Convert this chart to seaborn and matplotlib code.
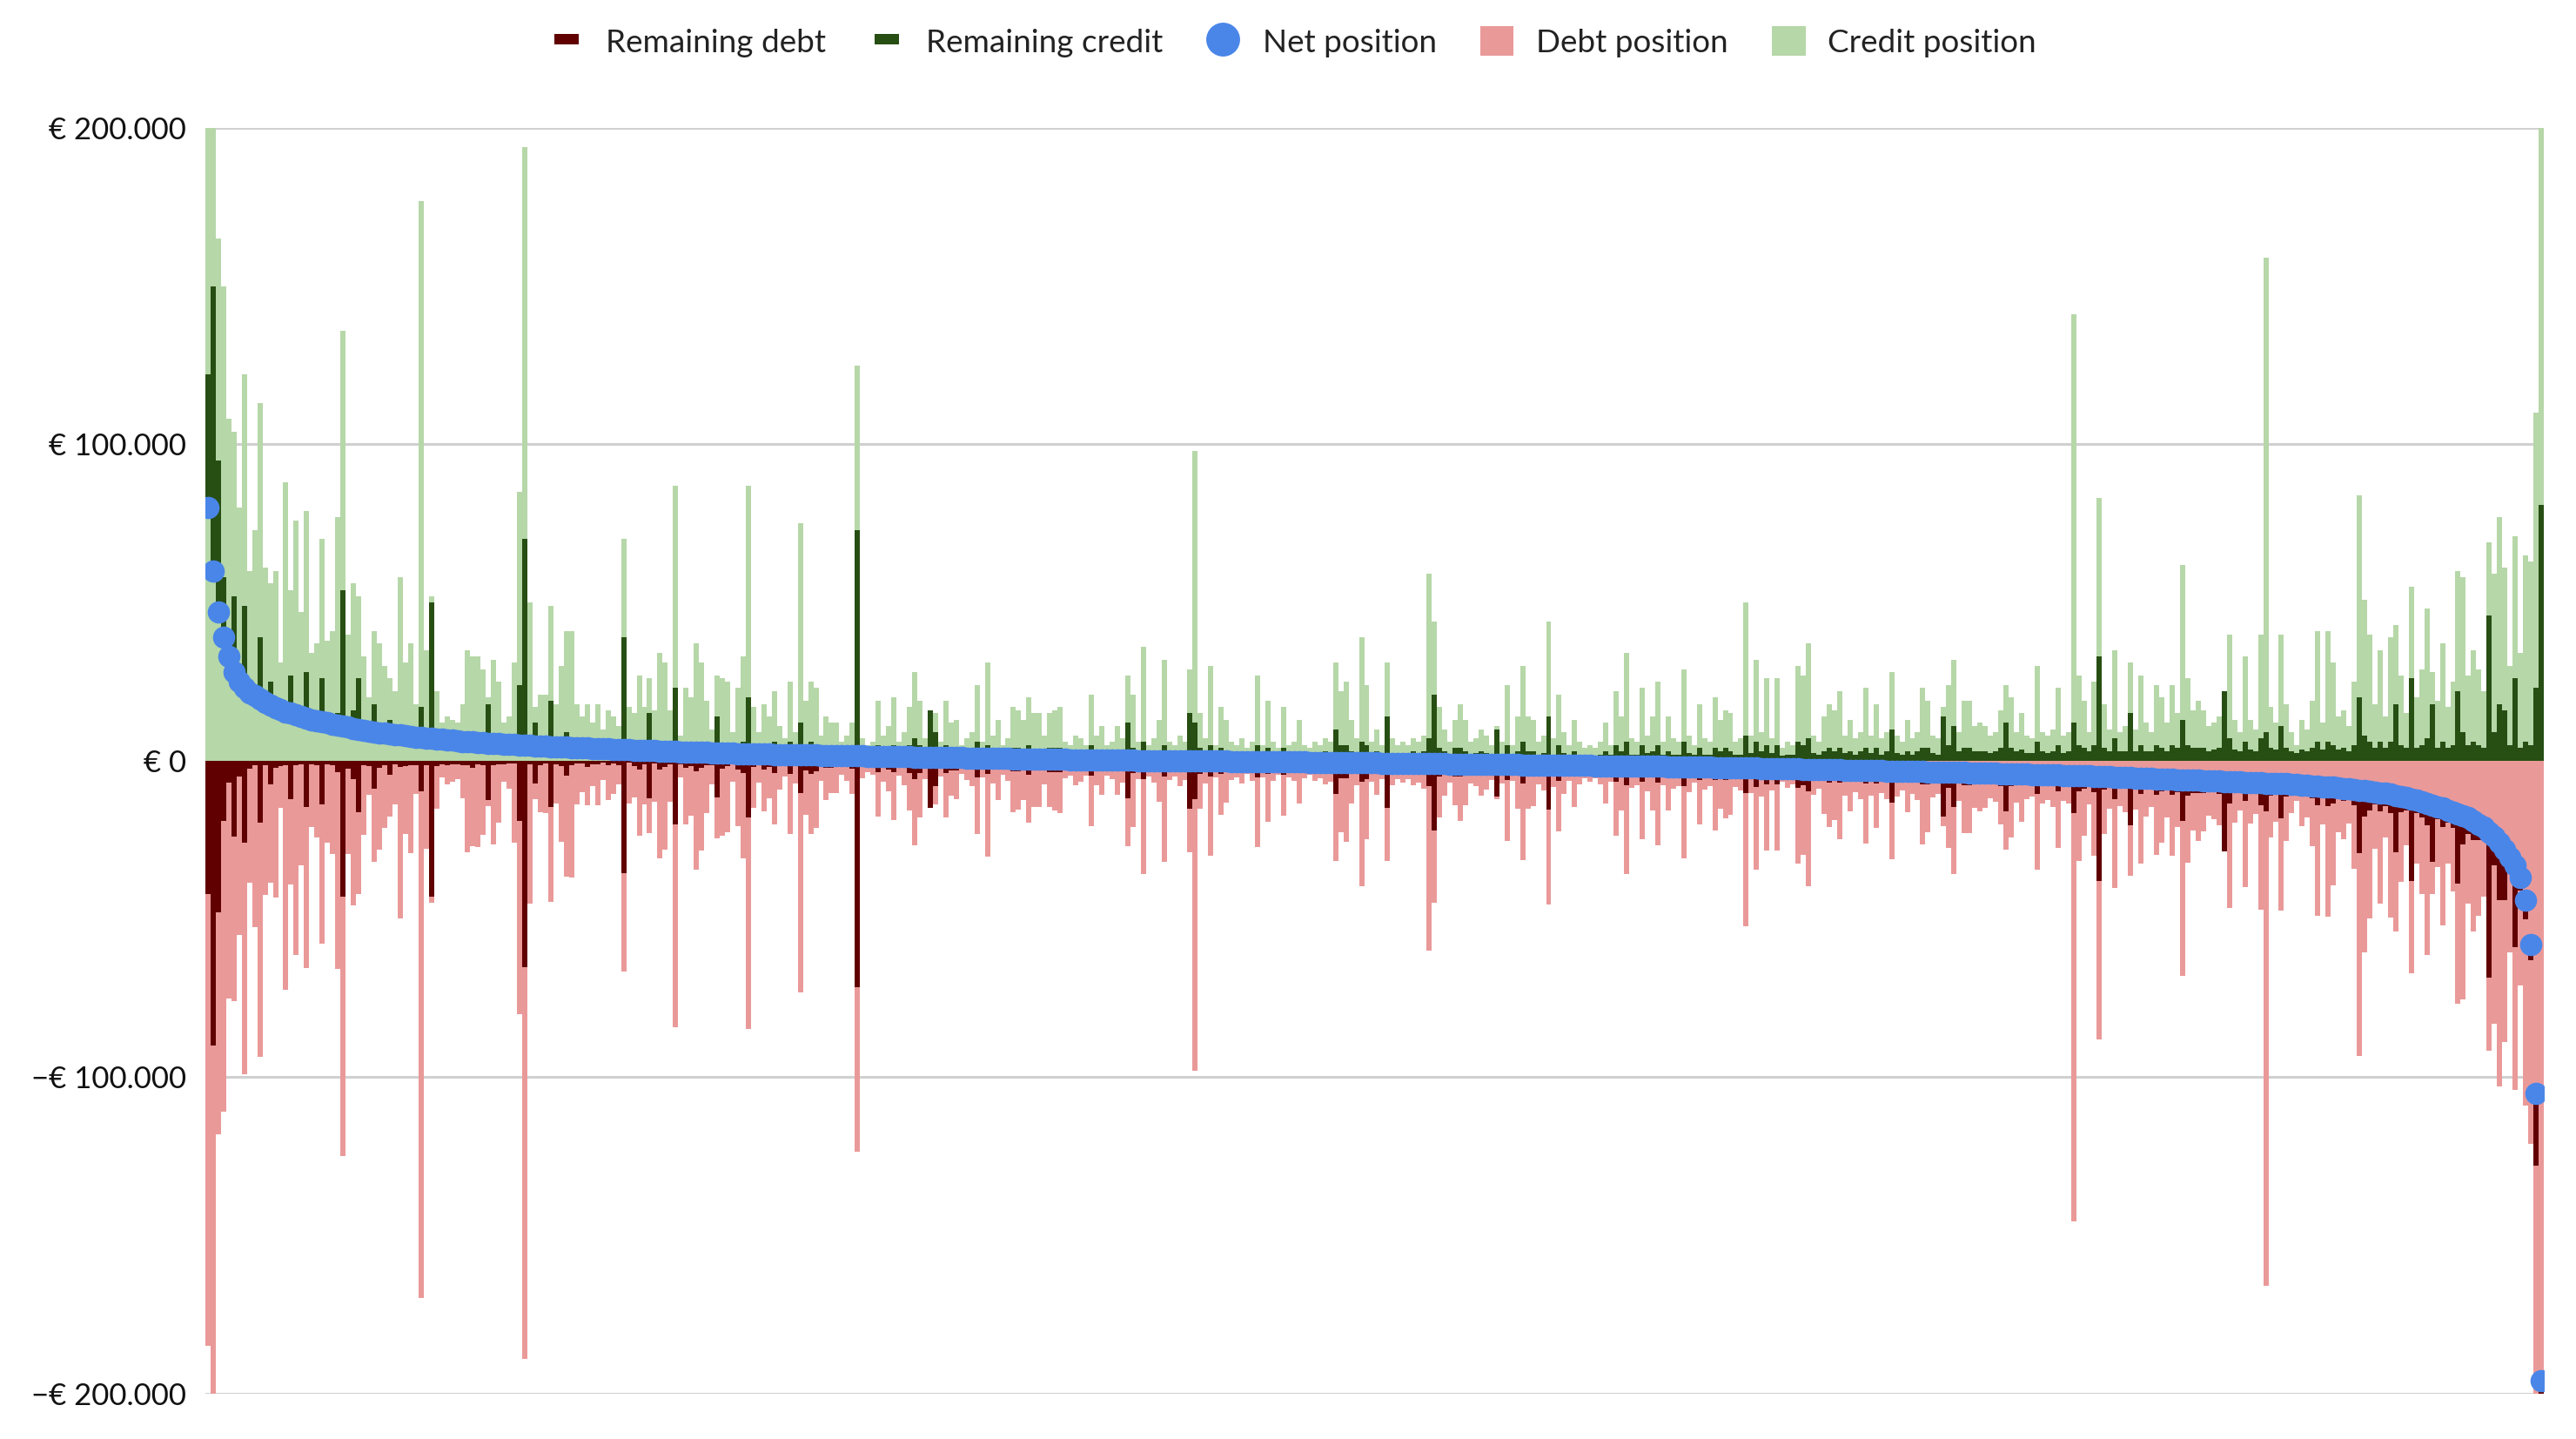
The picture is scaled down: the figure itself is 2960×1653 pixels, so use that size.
import numpy as np
import pandas as pd
import seaborn as sns
import matplotlib.pyplot as plt
from matplotlib.lines import Line2D
from matplotlib.patches import Patch
from matplotlib.ticker import FuncFormatter

# one entry per account, sorted by net position, values in thousands of euro
net_k = [
    80, 60, 47, 39, 33, 28, 25, 23, 21.5, 20.5, 19.5, 18.5, 17.5, 16.9, 16.2, 15.5, 15, 14.5, 14, 13.5,
    13, 12.7, 12.3, 12, 11.6, 11.3, 11, 10.6, 10.2, 9.8, 9.5, 9.3, 9.1, 8.9, 8.7, 8.5, 8.3, 8.1, 7.9, 7.7,
    7.5, 7.35, 7.2, 7.05, 6.9, 6.75, 6.6, 6.45, 6.3, 6.15, 6.0, 5.9, 5.8, 5.7, 5.6, 5.5, 5.4, 5.3, 5.2, 5.1,
    5.0, 4.9, 4.8, 4.75, 4.7, 4.6, 4.5, 4.4, 4.35, 4.3, 4.2, 4.13, 4.06, 4.0, 3.9, 3.85, 3.8, 3.7, 3.65, 3.6,
    3.5, 3.45, 3.4, 3.35, 3.3, 3.2, 3.15, 3.1, 3.0, 2.95, 2.9, 2.85, 2.8, 2.75, 2.7, 2.65, 2.6, 2.55, 2.5, 2.45,
    2.4, 2.35, 2.3, 2.26, 2.22, 2.18, 2.14, 2.1, 2.06, 2.03, 2.0, 1.97, 1.94, 1.91, 1.88, 1.85, 1.82, 1.79, 1.76, 1.73,
    1.7, 1.67, 1.64, 1.61, 1.58, 1.55, 1.52, 1.49, 1.46, 1.43, 1.4, 1.37, 1.34, 1.31, 1.28, 1.25, 1.22, 1.19, 1.16, 1.13,
    1.1, 1.07, 1.04, 1.01, 0.98, 0.95, 0.92, 0.89, 0.86, 0.83, 0.8, 0.77, 0.74, 0.71, 0.68, 0.65, 0.62, 0.59, 0.56, 0.53,
    0.5, 0.48, 0.46, 0.44, 0.42, 0.4, 0.38, 0.36, 0.34, 0.32, 0.3, 0.28, 0.26, 0.24, 0.22, 0.2, 0.18, 0.16, 0.14, 0.12,
    0.1, 0.08, 0.07, 0.05, 0.04, 0.02, 0.01, -0.01, -0.02, -0.04, -0.05, -0.07, -0.08, -0.1, -0.11, -0.13, -0.14, -0.16, -0.17, -0.19,
    -0.2, -0.22, -0.24, -0.26, -0.28, -0.3, -0.32, -0.34, -0.36, -0.38, -0.4, -0.42, -0.44, -0.46, -0.48, -0.5, -0.52, -0.54, -0.56, -0.58,
    -0.6, -0.62, -0.64, -0.66, -0.68, -0.7, -0.72, -0.74, -0.76, -0.78, -0.8, -0.82, -0.84, -0.86, -0.88, -0.9, -0.92, -0.94, -0.96, -0.98,
    -1.0, -1.02, -1.04, -1.06, -1.08, -1.1, -1.12, -1.14, -1.16, -1.18, -1.2, -1.22, -1.24, -1.26, -1.28, -1.3, -1.32, -1.34, -1.36, -1.38,
    -1.4, -1.42, -1.44, -1.46, -1.48, -1.5, -1.52, -1.54, -1.56, -1.58, -1.6, -1.62, -1.64, -1.66, -1.68, -1.7, -1.72, -1.74, -1.76, -1.78,
    -1.8, -1.83, -1.86, -1.89, -1.92, -1.95, -1.98, -2.01, -2.04, -2.07, -2.1, -2.13, -2.16, -2.19, -2.22, -2.25, -2.28, -2.31, -2.34, -2.37,
    -2.4, -2.44, -2.47, -2.51, -2.54, -2.58, -2.61, -2.65, -2.68, -2.72, -2.75, -2.79, -2.82, -2.86, -2.89, -2.93, -2.96, -3.0, -3.03, -3.07,
    -3.1, -3.14, -3.17, -3.21, -3.24, -3.28, -3.31, -3.35, -3.38, -3.42, -3.45, -3.49, -3.52, -3.56, -3.59, -3.63, -3.66, -3.7, -3.73, -3.77,
    -3.8, -3.85, -3.89, -3.94, -3.98, -4.03, -4.07, -4.12, -4.16, -4.21, -4.25, -4.3, -4.34, -4.39, -4.43, -4.48, -4.52, -4.57, -4.61, -4.66,
    -4.7, -4.77, -4.83, -4.9, -4.96, -5.03, -5.09, -5.16, -5.22, -5.29, -5.35, -5.42, -5.48, -5.55, -5.61, -5.68, -5.74, -5.81, -5.87, -5.94,
    -6.0, -6.07, -6.13, -6.2, -6.26, -6.33, -6.39, -6.46, -6.52, -6.59, -6.65, -6.72, -6.78, -6.85, -6.91, -6.98, -7.04, -7.11, -7.17, -7.24,
    -7.3, -7.42, -7.54, -7.66, -7.78, -7.9, -8.02, -8.14, -8.26, -8.38, -8.5, -8.7, -8.9, -9.1, -9.3, -9.5, -9.7, -9.9, -10.1, -10.3,
    -10.5, -10.9, -11.3, -11.7, -12.1, -12.5, -13, -13.5, -14, -14.5, -15, -15.6, -16.2, -16.8, -17.4, -18, -19, -20, -21, -22.5,
    -24, -26, -28, -30.5, -33, -37, -44, -58, -105, -196,
]

credit_k = [
    265, 260, 165, 150, 108, 104, 80, 122, 60, 73, 113, 61, 56, 60, 31, 88, 54, 76, 47, 79, 34, 37, 70, 38, 41,
    77, 136, 40, 56, 52, 33, 20, 41, 37, 30, 26, 22, 58, 31, 37, 18, 177, 35, 52, 22, 12, 14, 13, 12, 18,
    35, 33, 33, 29, 20, 32, 25, 12, 14, 31, 85, 194, 50, 17, 21, 21, 49, 18, 30, 41, 41, 18, 14, 18, 12,
    18, 10, 16, 14, 11, 70, 17, 15, 27, 17, 26, 16, 34, 31, 16, 87, 8, 23, 20, 37, 31, 19, 10, 27, 26,
    25, 9, 23, 33, 87, 17, 9, 18, 14, 22, 11, 7, 25, 9, 75, 19, 25, 23, 8, 14, 12, 12, 6, 8, 12,
    125, 7, 5, 6, 19, 8, 11, 20, 6, 9, 17, 28, 19, 7, 16, 15, 6, 19, 12, 13, 5, 7, 9, 24, 6,
    31, 8, 13, 5, 7, 17, 16, 13, 20, 15, 15, 8, 15, 16, 17, 6, 5, 8, 7, 5, 21, 8, 11, 5, 6,
    11, 7, 27, 21, 6, 36, 5, 7, 13, 32, 6, 5, 8, 6, 29, 98, 15, 7, 30, 5, 17, 13, 6, 5, 7,
    4, 6, 27, 5, 19, 6, 4, 17, 5, 6, 13, 5, 4, 6, 5, 7, 6, 31, 22, 25, 13, 7, 39, 24, 6,
    10, 5, 31, 7, 5, 6, 5, 7, 6, 8, 59, 44, 17, 10, 6, 13, 18, 13, 6, 7, 10, 8, 5, 11, 6,
    24, 5, 14, 30, 14, 13, 6, 8, 44, 7, 21, 9, 5, 13, 6, 4, 5, 4, 6, 12, 5, 22, 14, 34, 7,
    6, 23, 8, 14, 25, 6, 14, 7, 6, 29, 8, 5, 18, 7, 6, 20, 13, 16, 15, 6, 7, 50, 8, 32, 9,
    26, 7, 26, 4, 6, 5, 30, 27, 37, 8, 6, 14, 18, 16, 22, 8, 13, 7, 9, 23, 8, 18, 7, 9, 28,
    8, 6, 13, 7, 9, 23, 19, 8, 7, 17, 24, 32, 9, 19, 19, 11, 12, 11, 8, 9, 16, 24, 20, 9, 15,
    8, 7, 30, 9, 8, 10, 23, 8, 9, 141, 27, 19, 9, 25, 83, 18, 10, 35, 9, 11, 31, 10, 27, 12, 9,
    24, 20, 12, 24, 15, 62, 26, 16, 19, 16, 11, 12, 14, 22, 40, 13, 9, 33, 13, 10, 40, 159, 17, 12, 40,
    18, 9, 5, 13, 10, 19, 41, 12, 41, 31, 14, 16, 11, 25, 84, 51, 40, 18, 35, 14, 39, 43, 27, 15, 55,
    20, 29, 48, 28, 19, 37, 17, 25, 60, 58, 27, 35, 29, 22, 69, 59, 77, 61, 30, 71, 34, 65, 63, 110, 230,
]

remaining_credit_k = [
    122, 150, 95, 58, 40, 52, 30, 49, 24, 22, 39, 20, 25, 19, 18, 17, 27, 16, 15, 28, 14, 14, 26, 13, 13,
    15, 54, 13, 16, 26, 11, 11, 18, 11, 10, 13, 9.5, 10, 9.5, 9, 9, 17, 8.5, 50, 8.5, 8, 8, 7.5, 7.5, 7.5,
    7.5, 8, 7, 7, 18, 7, 6.5, 6.5, 6, 6, 24, 70, 6, 12, 6, 5.5, 19, 5.5, 6, 9, 5.5, 5, 5, 6, 5,
    5, 4.5, 5, 4.5, 5, 39, 4, 5, 6, 4.5, 15, 4, 6, 5, 4, 23, 4, 5, 4.5, 6, 5, 4, 4, 14, 5,
    4, 3.5, 5, 6, 20, 4, 3.5, 5, 4, 6, 3.5, 3, 6, 3.5, 12, 5, 6, 5, 3, 4, 4, 3.5, 3, 3.5, 4,
    73, 3, 2.5, 3, 5, 3, 4, 5, 2.5, 3, 5, 7, 5, 2.5, 16, 9, 2.5, 5, 4, 4, 2.5, 3, 3.5, 6, 2.5,
    5, 3, 3.5, 2, 2.5, 4, 4, 3, 5, 3.5, 3.5, 2.5, 4, 4, 4, 2, 2, 3, 2.5, 2, 5, 2.5, 3, 2, 2,
    3, 2.5, 12, 4, 2, 6, 2, 2.5, 3, 5, 2, 2, 3, 2, 15, 12, 4, 2.5, 5, 2, 4, 3, 2, 1.5, 2.5,
    2, 2.5, 5, 2, 4, 2, 1.5, 4, 2, 2, 3, 2, 1.5, 2.5, 2, 3, 2, 10, 5, 5, 3, 2.5, 6, 5, 2,
    3, 2, 14, 2.5, 2, 2, 2, 3, 2, 3, 7, 21, 4, 3, 2, 4, 4, 3, 2, 2.5, 3, 2.5, 2, 10, 2,
    5, 2, 3, 6, 3, 3, 2, 2.5, 14, 2, 5, 2.5, 2, 3, 2, 1.5, 2, 1.5, 2, 3, 2, 5, 3, 6, 2,
    2, 5, 2.5, 3, 5, 2, 3, 2, 2, 6, 2.5, 2, 4, 2, 2, 4, 3, 4, 3, 2, 2, 8, 2.5, 6, 3,
    5, 2.5, 5, 1.5, 2, 2, 6, 5, 7, 2.5, 2, 3, 4, 3, 4, 2.5, 3, 2, 3, 4, 2.5, 4, 2, 3, 10,
    2.5, 2, 3, 2, 3, 4, 4, 2.5, 2, 14, 5, 11, 3, 4, 4, 3, 3, 3, 2.5, 3, 4, 12, 4, 3, 3.5,
    2.5, 2.5, 6, 3, 2.5, 3, 5, 2.5, 3, 12, 5, 4, 3, 5, 33, 4, 3, 7, 3, 3, 15, 3, 5, 3, 3,
    5, 4, 3, 5, 4, 13, 5, 4, 4, 4, 3, 3.5, 4, 22, 7, 3.5, 3, 6, 3.5, 3, 7, 9, 4, 3.5, 11,
    4, 3, 2.5, 3.5, 3, 4, 6, 3.5, 6, 5, 3.5, 4, 3, 5, 20, 8, 6, 4, 6, 4, 6, 18, 5, 4, 26,
    4, 5, 7, 18, 4, 6, 4, 5, 22, 9, 5, 6, 5, 4, 46, 9, 18, 16, 5, 26, 4, 6, 5, 23, 81,
]

DARK_RED = '#600000'
DARK_GREEN = '#274e13'
BLUE = '#4a86e8'
LIGHT_RED = '#ea9999'
LIGHT_GREEN = '#b6d7a8'

net = np.array(net_k) * 1000
credit = np.array(credit_k) * 1000
rem_credit = np.array(remaining_credit_k) * 1000

df = pd.DataFrame({
    'account': np.arange(len(net)),
    'net': net,
    'credit': credit,
    'debt': -(credit - net),
    'rem_credit': rem_credit,
    'rem_debt': -(rem_credit - net),
    # the settled part (up to the net position) covers the remaining bars
    'net_credit': net.clip(min=0),
    'net_debt': net.clip(max=0),
})

sns.set_theme(style='white')
plt.rcParams['font.family'] = ['Lato', 'DejaVu Sans']

fig = plt.figure(figsize=(14.8, 8.265), dpi=200)
ax = fig.add_axes([0.0797, 0.0315, 0.9078, 0.8796])

bar_kw = dict(data=df, x='account', orient='v', width=1, linewidth=0,
              saturation=1, errorbar=None, ax=ax)
sns.barplot(y='credit', color=LIGHT_GREEN, zorder=1, **bar_kw)
sns.barplot(y='debt', color=LIGHT_RED, zorder=1, **bar_kw)
sns.barplot(y='rem_credit', color=DARK_GREEN, zorder=2, **bar_kw)
sns.barplot(y='rem_debt', color=DARK_RED, zorder=2, **bar_kw)
sns.barplot(y='net_credit', color=LIGHT_GREEN, zorder=2.5, **bar_kw)
sns.barplot(y='net_debt', color=LIGHT_RED, zorder=2.5, **bar_kw)
sns.scatterplot(data=df, x='account', y='net', s=85, color=BLUE,
                linewidth=0, zorder=3, legend=False, ax=ax)

ax.set_xlim(-0.5, len(net) - 0.5)
ax.set_ylim(-200000, 200000)
ax.set_xticks([])
ax.set_yticks([-200000, -100000, 0, 100000, 200000])


def euro(v, pos):
    if v == 0:
        return '€ 0'
    s = f'€ {abs(v):,.0f}'.replace(',', '.')
    return s if v > 0 else '\u2212' + s


ax.yaxis.set_major_formatter(FuncFormatter(euro))
ax.tick_params(axis='y', length=0, pad=8, labelsize=12.5, labelcolor='#111111')
ax.yaxis.grid(True, color='#d0d0d0', linewidth=1.1)
ax.set_axisbelow(True)
ax.set_xlabel('')
ax.set_ylabel('')
for sp in ax.spines.values():
    sp.set_visible(False)

rect = [(-1, -0.42), (1, -0.42), (1, 0.42), (-1, 0.42), (-1, -0.42)]
handles = [
    Line2D([0], [0], marker=rect, linestyle='None', markerfacecolor=DARK_RED,
           markeredgewidth=0, markersize=10),
    Line2D([0], [0], marker=rect, linestyle='None', markerfacecolor=DARK_GREEN,
           markeredgewidth=0, markersize=10),
    Line2D([0], [0], marker='o', linestyle='None', markerfacecolor=BLUE,
           markeredgewidth=0, markersize=14),
    Patch(facecolor=LIGHT_RED, edgecolor='none'),
    Patch(facecolor=LIGHT_GREEN, edgecolor='none'),
]
labels = ['Remaining debt', 'Remaining credit', 'Net position', 'Debt position', 'Credit position']
fig.legend(handles, labels, loc='center', bbox_to_anchor=(0.502, 0.971), ncol=5,
           frameon=False, fontsize=13.3, handlelength=1.05, handleheight=1.05,
           handletextpad=0.7, columnspacing=1.35, labelcolor='#222222')

fig.savefig('out.png', dpi=200)
